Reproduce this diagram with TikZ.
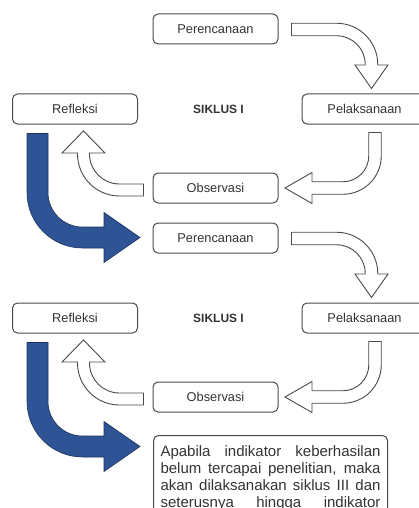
\documentclass[tikz,border=0pt]{standalone}
\usepackage{fontspec}
\setmainfont{Liberation Sans}
\usetikzlibrary{calc}
\definecolor{garis}{HTML}{4A4A4A}
\definecolor{teks}{HTML}{333333}
\definecolor{birupanah}{RGB}{46,84,150}
\tikzset{kotak/.style={draw=garis, line width=1pt, rounded corners=5pt,
        minimum width=125pt, minimum height=30pt, inner sep=0pt,
        text=teks, font=\fontsize{12.8}{15}\selectfont},
    judul/.style={text=teks, font=\bfseries\fontsize{12}{14}\selectfont},
    panahputih/.style={draw=garis, line width=0.9pt, fill=white},
    panahbiru/.style={draw=birupanah!60!black, line width=0.6pt, fill=birupanah}
}

\begin{document}
\begin{tikzpicture}[x=1pt, y=1pt, yscale=-1]
            \useasboundingbox (0,0) rectangle (418,508);
            % siklus I
            \node[kotak] (plan1) at (215.5, 29) {Perencanaan};
            \node[kotak] (ref1) at (75, 109) {Refleksi};
            \node[judul] (siklus1) at (218.5, 109) {SIKLUS I};
            \node[kotak] (lak1) at (364.5, 109) {Pelaksanaan};
            \node[kotak] (obs1) at (215.5, 188) {Observasi};
            % siklus berikutnya
            \node[kotak] (plan2) at (215.5, 238) {Perencanaan};
            \node[kotak] (ref2) at (75, 318) {Refleksi};
            \node[judul] (siklus2) at (218.5, 318) {SIKLUS I};
            \node[kotak] (lak2) at (364.5, 318) {Pelaksanaan};
            \node[kotak] (obs2) at (215.5, 397) {Observasi};
            \node[kotak, anchor=north west, inner xsep=7pt, inner ysep=10pt,
                text width=220pt, align=justify, font=\fontsize{15}{17}\selectfont]
                (ket) at (153, 435) {Apabila indikator keberhasilan\linebreak
                belum tercapai penelitian, maka\linebreak
                akan dilaksanakan siklus III dan\linebreak
                seterusnya\hfill{} hingga\hfill{} indikator};
            % panah
            \foreach \i in {1,2} {
                \draw[panahputih] ($(plan\i.east)+(13,-5.75)$) -- ++(45,0)
                    arc[start angle=-90, end angle=0, radius=41.25] -- ++(0,0.5)
                    -- ++(10.25,0) -- ++(-16.5,23.5) -- ++(-16.5,-23.5) -- ++(10.25,0)
                    -- ++(0,-0.5) arc[start angle=0, end angle=-90, radius=28.75]
                    -- ++(-45,0) -- cycle;
                \draw[panahputih] ($(lak\i.south)+(4.25,8)$) -- ++(12.5,0) -- ++(0,23.5)
                    arc[start angle=0, end angle=90, radius=38.25] -- ++(-31,0)
                    -- ++(0,9.25) -- ++(-27,-15.5) -- ++(27,-15.5) -- ++(0,9.25)
                    -- ++(31,0) arc[start angle=90, end angle=0, radius=25.75] -- cycle;
                \draw[panahputih] ($(obs\i.west)+(-9,-4)$) -- ++(-24,0)
                    arc[start angle=90, end angle=180, radius=30] -- ++(0,-1)
                    -- ++(15.5,0) -- ++(-21.5,-22) -- ++(-21.5,22) -- ++(15.5,0)
                    -- ++(0,1) arc[start angle=180, end angle=90, radius=42]
                    -- ++(24,0) -- cycle;
                \draw[panahbiru] ($(ref\i.south)+(-48,9)$) -- ++(21,0) -- ++(0,59)
                    arc[start angle=180, end angle=90, radius=34.5] -- ++(21.5,0)
                    -- ++(0,-14.5) -- ++(36,25) -- ++(-36,25) -- ++(0,-14.5)
                    -- ++(-21.5,0) arc[start angle=90, end angle=180, radius=55.5] -- cycle;
            }
        \end{tikzpicture}
\end{document}
